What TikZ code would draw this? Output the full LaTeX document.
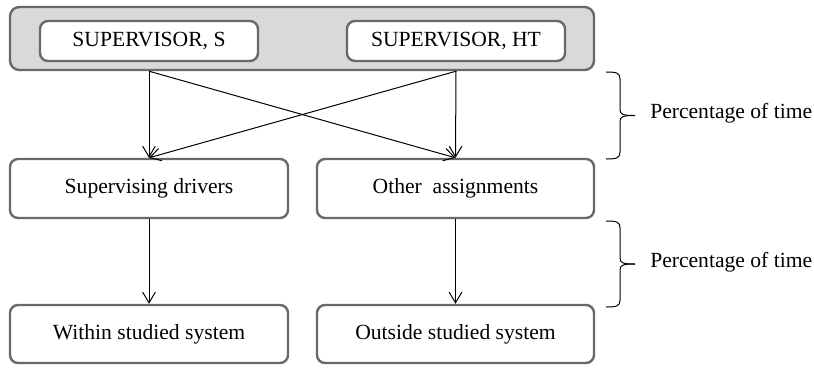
\documentclass[tikz,border=0pt]{standalone}
\usepackage{fontspec}
\setmainfont{Liberation Serif}
\usetikzlibrary{arrows.meta}
\usetikzlibrary{calc}

\definecolor{boxline}{RGB}{105,105,105}
\definecolor{boxfill}{RGB}{217,217,217}

\newcommand{\pix}{0.75pt}

\tikzset{
	box/.style={draw=boxline, line width=1.8pt, rounded corners=6pt, fill=white, inner sep=0pt, font=\fontsize{16.2}{19}\selectfont},
	arr/.style={-{Straight Barb[length=8pt,width=9.5pt]}, line width=0.75pt},
	pct/.style={inner sep=0pt, font=\fontsize{16.2}{19}\selectfont}
}

\newcommand{\timebrace}[3] % x, top y, bottom y (pixels)
{
	\pgfmathsetmacro{\ymid}{(#2+#3)/2}
	% upper half
	\draw[line width=0.75pt] (#1-14,#2) .. controls (#1-3,#2) and (#1,#2+1) .. (#1,#2+7) -- (#1,\ymid-6) .. controls (#1,\ymid-1) and (#1+3,\ymid) .. (#1+15,\ymid);
	% lower half
	\draw[line width=0.75pt] (#1-14,#3) .. controls (#1-3,#3) and (#1,#3-1) .. (#1,#3-7) -- (#1,\ymid+6) .. controls (#1,\ymid+1) and (#1+3,\ymid) .. (#1+15,\ymid);
}

\begin{document}
\begin{tikzpicture}[x=0.75pt, y=-0.75pt]
	% canvas: 814 x 369 pixels
	\useasboundingbox (0,0) rectangle (814,369);
	% supervisors
	\node[box, fill=boxfill, rounded corners=7pt, minimum width=584*\pix, minimum height=63*\pix] (top) at (302,38.5) {};
	\node[box, minimum width=218*\pix, minimum height=40*\pix] (sups) at (149,41) {SUPERVISOR, S};
	\node[box, minimum width=218*\pix, minimum height=40*\pix] (supht) at (456,41) {SUPERVISOR, HT};
	% tasks
	\node[box, minimum width=278*\pix, minimum height=59*\pix] (drive) at (149,188.5) {Supervising drivers};
	\node[box, minimum width=277*\pix, minimum height=59*\pix] (other) at (455.5,188.5) {Other\ \ assignments};
	% systems
	\node[box, minimum width=278*\pix, minimum height=58*\pix] (within) at (149,334) {Within studied system};
	\node[box, minimum width=277*\pix, minimum height=58*\pix] (outside) at (455.5,334) {Outside studied system};
	% arrows
	\draw[arr] (sups |- top.south) -- (drive.north);
	\draw[arr] (sups |- top.south) -- (other.north);
	\draw[arr] (supht |- top.south) -- (drive.north);
	\draw[arr] (supht |- top.south) -- (other.north);
	\draw[arr] (drive) -- (within);
	\draw[arr] (other) -- (outside);
	% braces
	\timebrace{620}{72}{159};
	\timebrace{620}{221}{307};
	\node[pct, anchor=west] (pcttop) at (650,113) {Percentage of time};
	\node[pct, anchor=west] (pctbot) at (650,262) {Percentage of time};
\end{tikzpicture}
\end{document}
